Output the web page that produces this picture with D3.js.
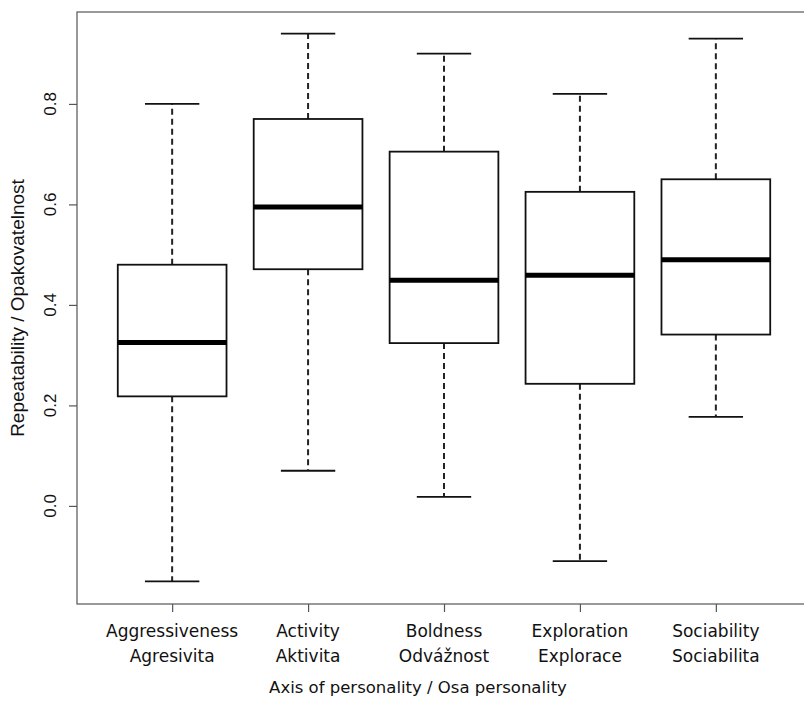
<!DOCTYPE html>
<html><head><meta charset="utf-8">
<script src="https://cdn.jsdelivr.net/npm/d3@7"></script>
<style>body{margin:0;background:#fff}svg{display:block}</style>
</head><body>
<script>
const categoriesEn = ["Aggressiveness","Activity","Boldness","Exploration","Sociability"];
const categoriesCz = ["Agresivita","Aktivita","Odvážnost","Explorace","Sociabilita"];
const lowerWhisker = [-0.150, 0.070, 0.018, -0.110, 0.177];
const q1 = [0.218, 0.471, 0.324, 0.243, 0.341];
const median = [0.325, 0.595, 0.449, 0.459, 0.490];
const q3 = [0.480, 0.770, 0.705, 0.625, 0.650];
const upperWhisker = [0.800, 0.940, 0.900, 0.820, 0.930];
const yTicks = [0.0, 0.2, 0.4, 0.6, 0.8];
const xTitle = "Axis of personality / Osa personality";
const yTitle = "Repeatability / Opakovatelnost";

const W = 804, H = 710;
const svg = d3.select("body").append("svg").attr("width", W).attr("height", H);
const plot = {left: 77, right: 811, top: 12, bottom: 604};

const y = d3.scaleLinear().domain([-0.1952, 0.9829]).range([plot.bottom, plot.top]);
const x = d3.scaleLinear().domain([0.3, 5.7]).range([plot.left, plot.right]);
const idx = d3.range(categoriesEn.length);
const boxW = x(1.8) - x(1);
const capW = boxW / 2;

// frame
svg.append("rect").attr("x", plot.left).attr("y", plot.top)
  .attr("width", plot.right - plot.left).attr("height", plot.bottom - plot.top)
  .attr("fill", "none").attr("stroke", "#555").attr("stroke-width", 1.2);

// y axis ticks
const yAx = svg.append("g").attr("transform", `translate(${plot.left},0)`)
  .call(d3.axisLeft(y).tickValues(yTicks).tickSize(8).tickFormat(""));
yAx.select(".domain").remove();
yAx.selectAll("line").attr("stroke", "#555").attr("stroke-width", 1.2);
yTicks.forEach(t => {
  svg.append("text").attr("transform", `translate(56,${y(t)}) rotate(-90)`)
    .attr("text-anchor", "middle").attr("font-family", "Liberation Sans, Arial, sans-serif")
    .attr("font-size", 17).attr("fill", "#111").text(d3.format(".1f")(t));
});

// x axis ticks
const xAx = svg.append("g").attr("transform", `translate(0,${plot.bottom})`)
  .call(d3.axisBottom(x).tickValues(idx.map(i => i + 1)).tickSize(8).tickFormat(""));
xAx.select(".domain").remove();
xAx.selectAll("line").attr("stroke", "#555").attr("stroke-width", 1.2);

idx.forEach(i => {
  const cx = x(i + 1);
  const t = svg.append("text").attr("text-anchor", "middle")
    .attr("font-family", "DejaVu Sans, sans-serif").attr("font-size", 17).attr("fill", "#111");
  t.append("tspan").attr("x", cx).attr("y", 637).text(categoriesEn[i]);
  t.append("tspan").attr("x", cx).attr("y", 662).text(categoriesCz[i]);
});

svg.append("text").attr("x", 418).attr("y", 693)
  .attr("text-anchor", "middle").attr("font-family", "DejaVu Sans, sans-serif")
  .attr("font-size", 16.5).attr("fill", "#111").text(xTitle);

svg.append("text").attr("transform", `translate(24,${(plot.top + plot.bottom) / 2}) rotate(-90)`)
  .attr("text-anchor", "middle").attr("font-family", "Liberation Sans, Arial, sans-serif")
  .attr("font-size", 19).attr("fill", "#111").text(yTitle);

// boxes
const g = svg.append("g");
idx.forEach(i => {
  const cx = x(i + 1);
  g.append("line").attr("x1", cx).attr("x2", cx).attr("y1", y(q3[i])).attr("y2", y(upperWhisker[i]))
    .attr("stroke", "#222").attr("stroke-width", 2).attr("stroke-dasharray", "6,4");
  g.append("line").attr("x1", cx).attr("x2", cx).attr("y1", y(q1[i])).attr("y2", y(lowerWhisker[i]))
    .attr("stroke", "#222").attr("stroke-width", 2).attr("stroke-dasharray", "6,4");
  [upperWhisker[i], lowerWhisker[i]].forEach(v => {
    g.append("line").attr("x1", cx - capW / 2).attr("x2", cx + capW / 2)
      .attr("y1", y(v)).attr("y2", y(v)).attr("stroke", "#111").attr("stroke-width", 1.8);
  });
  g.append("rect").attr("x", cx - boxW / 2).attr("width", boxW)
    .attr("y", y(q3[i])).attr("height", y(q1[i]) - y(q3[i]))
    .attr("fill", "#fff").attr("stroke", "#111").attr("stroke-width", 1.8);
  g.append("line").attr("x1", cx - boxW / 2).attr("x2", cx + boxW / 2)
    .attr("y1", y(median[i])).attr("y2", y(median[i])).attr("stroke", "#000").attr("stroke-width", 5);
});
</script>
</body></html>
